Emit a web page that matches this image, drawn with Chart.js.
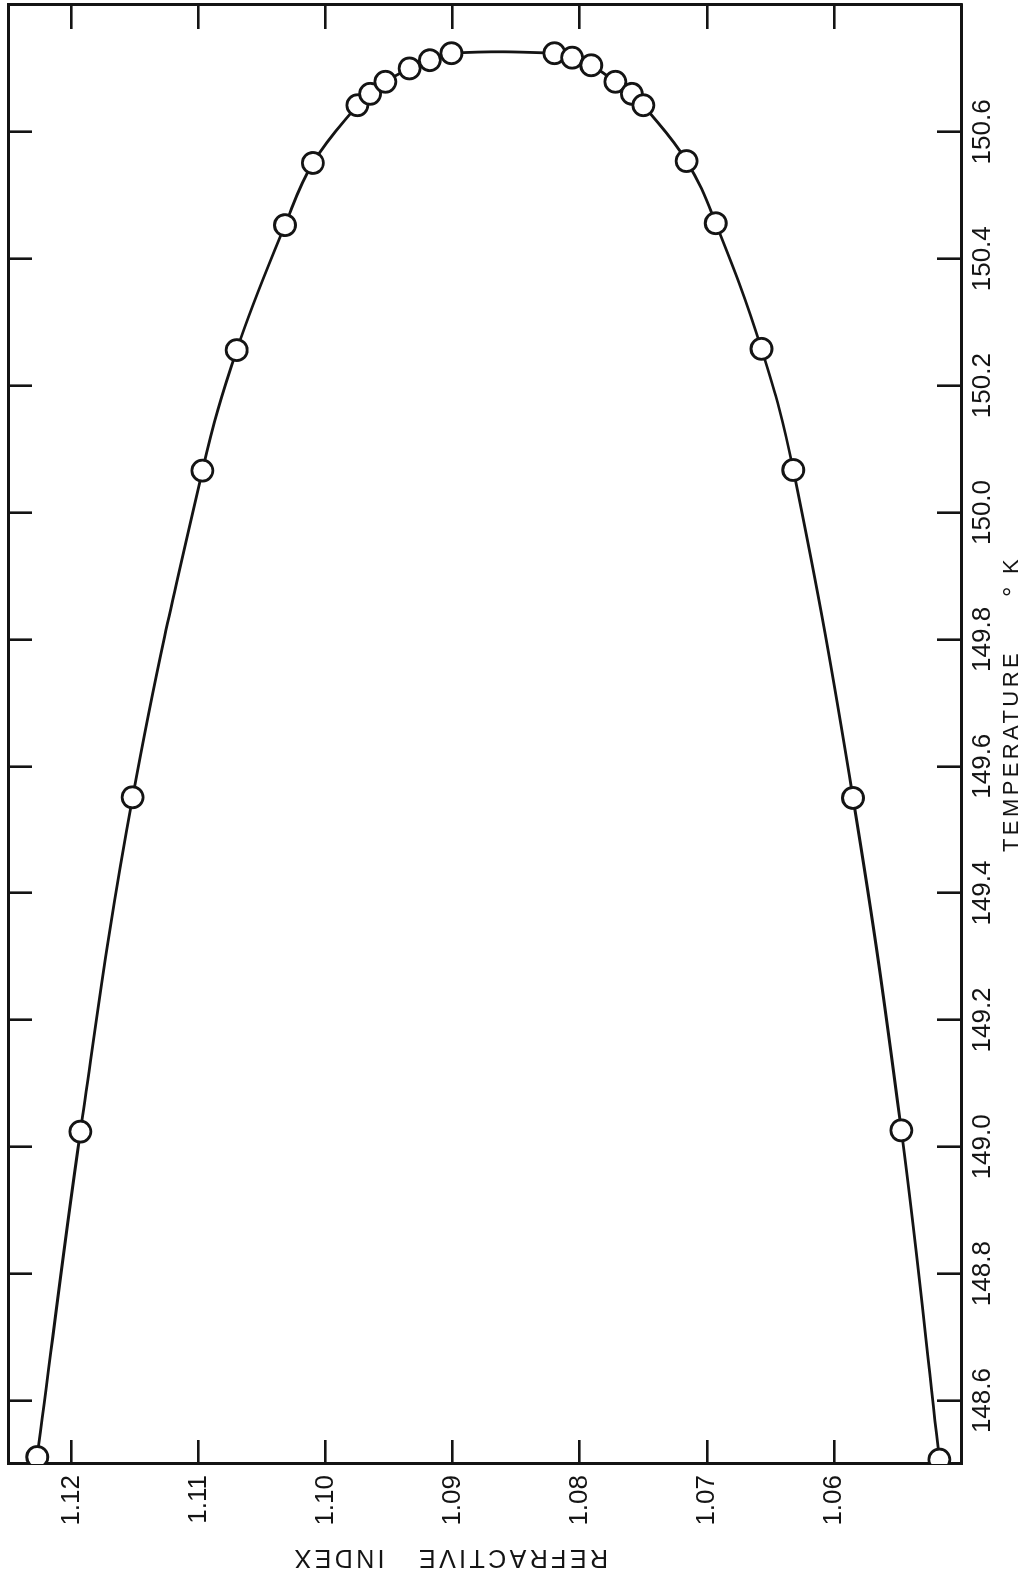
<!DOCTYPE html>
<html>
<head>
<meta charset="utf-8">
<title>Refractive index vs temperature</title>
<script src="https://cdn.jsdelivr.net/npm/chart.js@4.4.1/dist/chart.umd.min.js"></script>
<style>
  html, body {
    margin: 0;
    padding: 0;
    background: #fff;
    width: 1031px;
    height: 1581px;
    overflow: hidden;
  }
  /* the plot is laid out landscape and turned a quarter turn to stand upright */
  #wrap {
    position: absolute;
    left: 0;
    top: 0;
    width: 1581px;
    height: 1031px;
    transform-origin: 0 0;
    transform: translateY(1581px) rotate(-90deg);
  }
</style>
</head>
<body>
<div id="wrap"><canvas id="chart" width="1581" height="1031"></canvas></div>
<script>
// Coexistence curve: temperature (K) against refractive index
const temperature = [
  148.511, 149.024, 149.551, 150.066, 150.256, 150.453, 150.551,
  150.642, 150.660, 150.679, 150.700, 150.713, 150.724,
  150.724, 150.717, 150.705, 150.679, 150.660, 150.642,
  150.554, 150.456, 150.258, 150.067, 149.550, 149.026, 148.507
]
const refractiveIndex = [
  1.1227, 1.1193, 1.1152, 1.1097, 1.1070, 1.1032, 1.1010,
  1.0975, 1.0965, 1.0953, 1.0934, 1.0918, 1.0901,
  1.0820, 1.0806, 1.0791, 1.0772, 1.0759, 1.0750,
  1.0716, 1.0693, 1.0657, 1.0632, 1.0585, 1.0547, 1.0517
]

const tempTicks = [148.6, 148.8, 149.0, 149.2, 149.4, 149.6, 149.8, 150.0, 150.2, 150.4, 150.6]
const indexTicks = [1.06, 1.07, 1.08, 1.09, 1.10, 1.11, 1.12]

const ink = '#141414'

let points = temperature.map((t, i) => ({ x: t, y: refractiveIndex[i] }))

Chart.defaults.font.family = '"Liberation Sans", Arial, sans-serif'
Chart.defaults.color = ink

// shared look for the four sides of the frame, ticks pointing inward
let side = function(position, ticks, showLabels, size, decimals) {
  let horizontal = position == 'top' || position == 'bottom'
  return {
    type: 'linear',
    position: position,
    min: horizontal ? 148.5 : 1.05,
    max: horizontal ? 150.8 : 1.125,
    afterBuildTicks: axis => {
      axis.ticks = ticks.map(v => ({ value: v }))
    },
    afterFit: axis => {
      if (horizontal) axis.height = size
      else axis.width = size
      // labels never reach the frame ends, so no overhang is needed
      axis.paddingTop = 0
      axis.paddingBottom = 0
      axis.paddingLeft = 0
      axis.paddingRight = 0
    },
    grid: {
      display: true,
      drawOnChartArea: false,
      drawTicks: true,
      tickLength: -24,
      color: ink,
      lineWidth: 2.6
    },
    border: {
      display: true,
      color: ink,
      width: 3
    },
    ticks: {
      display: showLabels,
      padding: horizontal ? 30 : 35,
      maxRotation: 0,
      autoSkip: false,
      font: { size: 26 },
      color: ink,
      callback: v => v.toFixed(decimals)
    }
  }
}

// axis titles, spaced out like the hand lettering
const axisTitles = {
  id: 'axisTitles',
  afterDraw(chart) {
    let ctx = chart.ctx
    let area = chart.chartArea
    ctx.save()
    ctx.fillStyle = ink
    ctx.textBaseline = 'alphabetic'

    ctx.font = '22px "Liberation Sans", Arial, sans-serif'
    ctx.letterSpacing = '3.4px'
    ctx.textAlign = 'left'
    ctx.fillText('TEMPERATURE', area.left + 612, area.bottom + 57)
    ctx.letterSpacing = '0px'
    ctx.font = '26px "Liberation Sans", Arial, sans-serif'
    ctx.fillText('°', area.left + 867, area.bottom + 60)
    ctx.font = '22px "Liberation Sans", Arial, sans-serif'
    ctx.fillText('K', area.left + 890, area.bottom + 57)

    ctx.translate(area.left - 86, (area.top + area.bottom) / 2 - 35)
    ctx.rotate(-Math.PI / 2)
    ctx.font = '25px "Liberation Sans", Arial, sans-serif'
    ctx.letterSpacing = '3.4px'
    ctx.textAlign = 'center'
    ctx.fillText('REFRACTIVE   INDEX', 0, 0)
    ctx.restore()
  }
}

new Chart('chart', {
  type: 'scatter',
  data: {
    datasets: [{
      data: points,
      showLine: true,
      tension: 0.4,
      borderColor: ink,
      borderWidth: 2.8,
      pointRadius: 10.5,
      pointHoverRadius: 10.5,
      pointBorderWidth: 2.8,
      pointBorderColor: ink,
      pointBackgroundColor: '#fff'
    }]
  },
  options: {
    responsive: false,
    animation: false,
    devicePixelRatio: 1,
    // the frame sits right at the canvas edge; end circles are cut by it
    layout: { padding: 0, autoPadding: false },
    plugins: {
      legend: { display: false },
      tooltip: { enabled: false }
    },
    scales: {
      x: side('bottom', tempTicks, true, 70, 1),
      xTop: side('top', tempTicks, false, 8, 1),
      y: side('left', indexTicks, true, 117, 2),
      yRight: side('right', indexTicks, false, 5, 2)
    }
  },
  plugins: [axisTitles]
})
</script>
</body>
</html>
